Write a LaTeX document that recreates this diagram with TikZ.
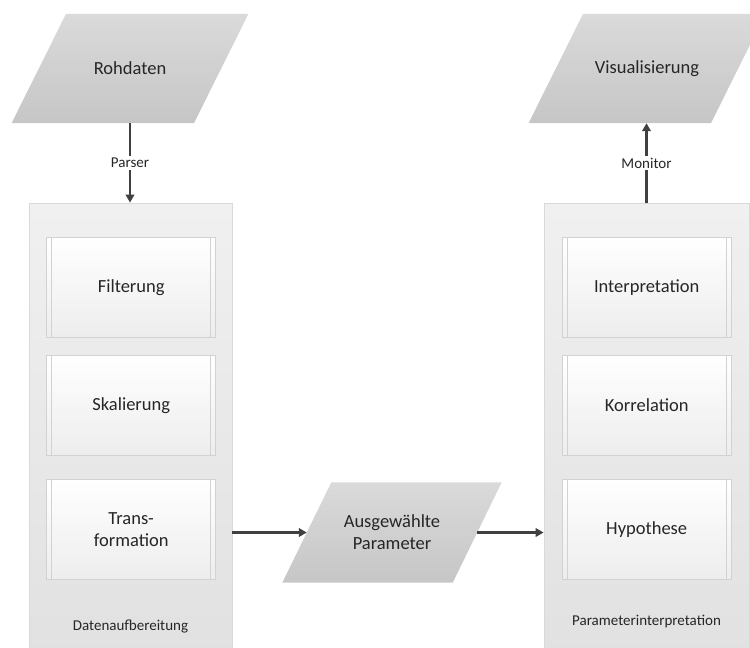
\documentclass[tikz,border=0pt]{standalone}
\usepackage{fontspec}
\setmainfont{Carlito}
\usetikzlibrary{arrows.meta,calc,backgrounds}
\definecolor{ink}{HTML}{262626}
\definecolor{arrowgray}{HTML}{404040}
\definecolor{iotop}{HTML}{DADADA}
\definecolor{iobot}{HTML}{C6C6C6}
\definecolor{grouptop}{HTML}{F0F0F0}
\definecolor{groupbot}{HTML}{E1E1E1}
\definecolor{groupline}{HTML}{D9D9D9}
\definecolor{steptop}{HTML}{FFFFFF}
\definecolor{stepbot}{HTML}{EDEDED}
\definecolor{stepline}{HTML}{D2D2D2}

\begin{document}
\begin{tikzpicture}[x=1pt,y=-1pt,
  every node/.style={text=ink},
  bigtext/.style={font=\fontsize{18.5}{22}\selectfont, align=center},
  smalltext/.style={font=\fontsize{15}{18}\selectfont},
  iobox/.style={bigtext, inner sep=0pt},
  groupbox/.style={draw=groupline, line width=0.8pt, top color=grouptop, bottom color=groupbot,
    minimum width=203pt, minimum height=457pt, inner sep=0pt},
  stepbox/.style={bigtext, draw=stepline, line width=0.8pt, top color=steptop, bottom color=stepbot,
    minimum width=169pt, minimum height=100pt, inner sep=0pt,
    path picture={
      \draw[stepline, line width=0.6pt]
        ([xshift=5pt]path picture bounding box.north west) -- ([xshift=5pt]path picture bounding box.south west)
        ([xshift=-5pt]path picture bounding box.north east) -- ([xshift=-5pt]path picture bounding box.south east);
    }},
  flow/.style={draw=arrowgray, line width=2.6pt, -{Triangle[width=8.5pt,length=8pt]}},
  flowlabel/.style={smalltext, fill=white, inner sep=2pt}
]
\useasboundingbox (0,0) rectangle (750,648);
\clip (0,0) rectangle (750,648);

% input / output data
\node[iobox, minimum width=182pt, minimum height=109pt] (raw) at (130,68.5) {Rohdaten};
\node[iobox, minimum width=182pt, minimum height=109pt] (vis) at (647,68.5) {Visualisierung};
\node[iobox, minimum width=170pt, minimum height=100pt] (sel) at (392,532.5) {Ausgewählte\\Parameter};

% processing groups
\node[groupbox] (prep) at (130.5,431.5) {};
\node[groupbox, minimum width=205pt] (interp) at (646.5,431.5) {};
\node[smalltext] (prepname) at (130.5,627) {Datenaufbereitung};
\node[smalltext] (interpname) at (646.5,621.5) {Parameterinterpretation};

% steps of the data preparation
\node[stepbox] (filt) at (131.2,287.7) {Filterung};
\node[stepbox] (scale) at (131.2,405.2) {Skalierung};
\node[stepbox] (trans) at (131.2,529.7) {Trans-\\formation};

% steps of the parameter interpretation
\node[stepbox] (expl) at (646.7,287.7) {Interpretation};
\node[stepbox] (corr) at (646.7,405.2) {Korrelation};
\node[stepbox] (hypo) at (646.7,529.7) {Hypothese};

% parallelogram outlines behind the data nodes
\begin{scope}[on background layer]
  \foreach \n/\s in {raw/54.5, vis/54.5, sel/49}
    \shade[top color=iotop, bottom color=iobot]
      ($(\n.north west)+(\s/2,0)$) -- ($(\n.north east)+(\s/2,0)$) --
      ($(\n.south east)-(\s/2,0)$) -- ($(\n.south west)-(\s/2,0)$) -- cycle;
\end{scope}

% data flow
\draw[flow] (raw.south) -- node[flowlabel] {Parser} (raw.south |- prep.north);
\draw[flow] (interp.north) -- node[flowlabel] {Monitor} (interp.north |- vis.south);
\draw[flow] (prep.east |- sel.west) -- (sel.west);
\draw[flow] (sel.east) -- (sel.east -| interp.west);
\end{tikzpicture}
\end{document}
